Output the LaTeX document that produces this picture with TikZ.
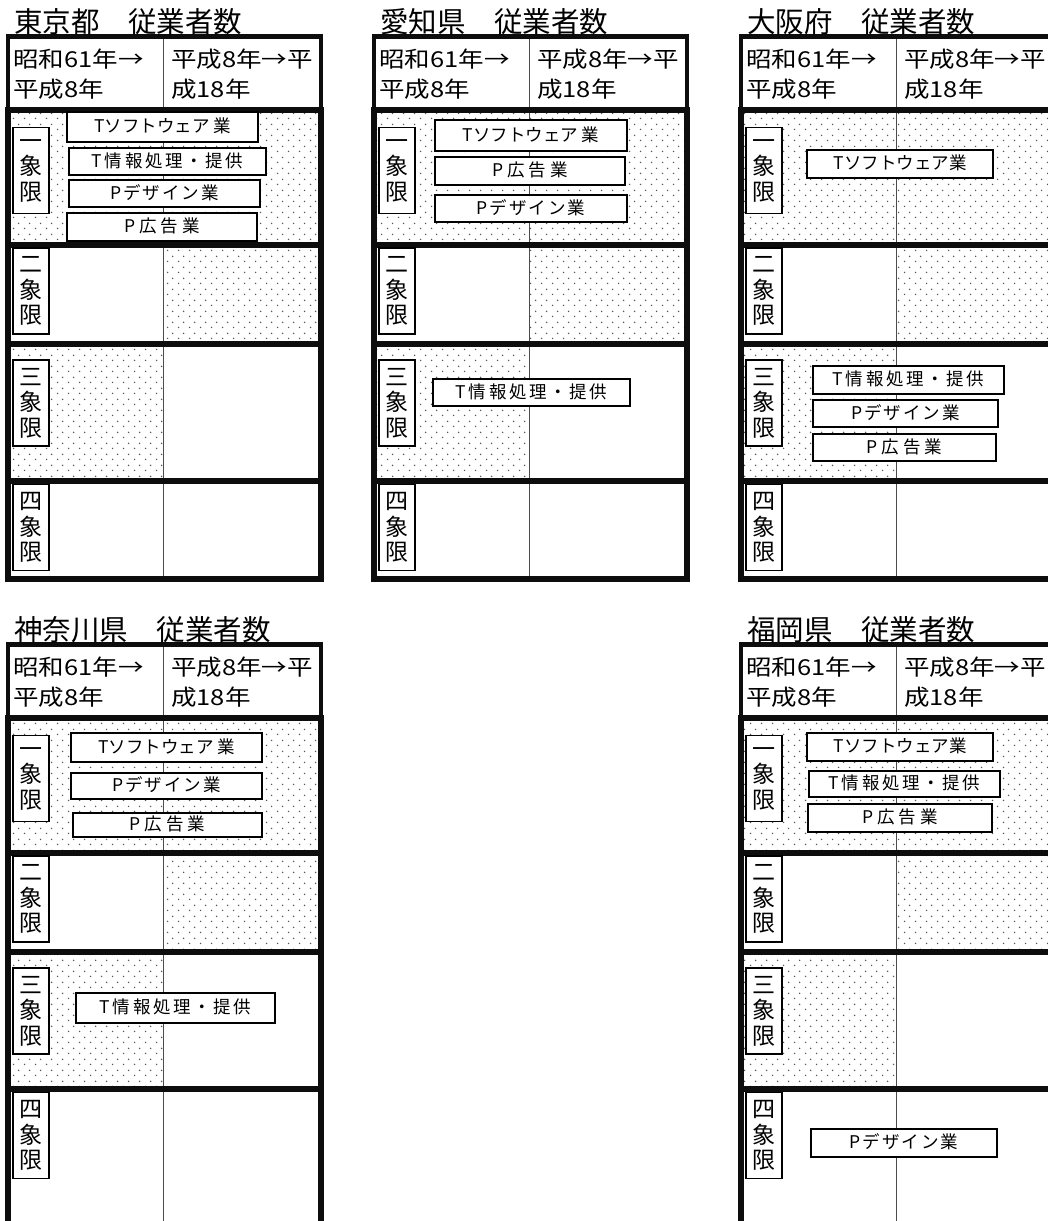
\documentclass[tikz,border=0pt]{standalone}
\usepackage{graphicx}
\usepackage{fontspec}
\setmainfont{Noto Sans CJK JP}
\newfontfamily\HdFont{Noto Sans CJK JP}
\newfontfamily\BxFontA{Noto Sans CJK JP}
\newfontfamily\BxFontB[LetterSpace=11]{Noto Sans CJK JP}
\newfontfamily\BxFontC[LetterSpace=23]{Noto Sans CJK JP}
\newfontfamily\BxFontD[LetterSpace=15]{Noto Sans CJK JP}
\newcommand\HWide[1]{\scalebox{1.16}[1]{#1}}
\usetikzlibrary{patterns.meta}

\pgfdeclarepattern{
  name=mydots,
  type=uncolored,
  bottom left={\pgfpoint{0pt}{0pt}},
  top right={\pgfpoint{11pt}{11pt}},
  tile size={\pgfpoint{11pt}{11pt}},
  code={
    \pgfpathcircle{\pgfpoint{2.75pt}{2.75pt}}{0.85pt}
    \pgfpathcircle{\pgfpoint{8.25pt}{8.25pt}}{0.85pt}
    \pgfusepath{fill}
  }
}

\tikzset{
  frame/.style={line width=6pt, line cap=rect, black!95},
  hframe/.style={line width=4.5pt, black!95},
  midline/.style={line width=1pt, black!70},
  dotfill/.style={pattern=mydots, pattern color=black!65},
  titletext/.style={anchor=west, inner sep=0pt, font=\fontsize{28.5}{28.5}\selectfont},
  headtext/.style={anchor=base west, inner sep=0pt, font=\fontsize{22}{22}\HdFont},
  qlabel/.style={draw, line width=1.5pt, fill=white, minimum width=36pt,
    minimum height=86pt, inner sep=0pt, align=center,
    font=\fontsize{23}{25.5}\selectfont},
  ibox/.style={draw, line width=1.5pt, fill=white, inner sep=0pt,
    text height=1.1em, text depth=0em},
  fA/.style={font=\fontsize{17.5}{17.5}\BxFontA},
  fB/.style={font=\fontsize{17.5}{17.5}\BxFontB},
  fC/.style={font=\fontsize{17.5}{17.5}\BxFontC},
  fD/.style={font=\fontsize{17.5}{17.5}\BxFontD}
}

% #1 prefix, #2 left x, #3 top offset, #4 title, #5 bottom y, #6 bottom line style
\newcommand\DrawPanel[6]{%
  \pgfmathsetmacro\PnL{#2}%
  \pgfmathsetmacro\PnT{#3}%
  \pgfmathsetmacro\PnM{#2+155}%
  \pgfmathsetmacro\PnR{#2+313}%
  % dotted regions
  \fill[dotfill] (\PnL,\PnT+109.5) rectangle (\PnR,\PnT+245);
  \fill[dotfill] (\PnM,\PnT+245) rectangle (\PnR,\PnT+344);
  \fill[dotfill] (\PnL,\PnT+344) rectangle (\PnM,\PnT+480.5);
  % middle line
  \draw[midline] (\PnM,\PnT+36.5) -- (\PnM,#5);
  % frames
  \draw[hframe] (\PnL,\PnT+36.5) rectangle (\PnR,\PnT+109.5);
  \draw[frame] (\PnL,\PnT+109.5) -- (\PnR,\PnT+109.5);
  \draw[frame] (\PnL,\PnT+245) -- (\PnR,\PnT+245);
  \draw[frame] (\PnL,\PnT+344) -- (\PnR,\PnT+344);
  \draw[frame] (\PnL,\PnT+480.5) -- (\PnR,\PnT+480.5);
  \draw[frame] (\PnL,\PnT+109.5) -- (\PnL,#5);
  \draw[frame] (\PnR,\PnT+109.5) -- (\PnR,#5);
  \draw[frame,#6] (\PnL,#5) -- (\PnR,#5);
  % title
  \node[titletext] (#1title) at (\PnL+6,\PnT+22) {#4};
  % header texts
  \node[headtext] (#1ha) at (\PnL+5,\PnT+67.5) {\HWide{昭和61年→}};
  \node[headtext] (#1hb) at (\PnL+5,\PnT+97) {\HWide{平成8年}};
  \node[headtext] (#1hc) at (\PnL+163,\PnT+67.5) {\HWide{平成8年→平}};
  \node[headtext] (#1hd) at (\PnL+163,\PnT+97) {\HWide{成18年}};
  % quadrant labels
  \node[qlabel] (#1q1) at (\PnL+23,\PnT+170.5) {一\\象\\限};
  \node[qlabel] (#1q2) at (\PnL+23,\PnT+291) {二\\象\\限};
  \node[qlabel] (#1q3) at (\PnL+23,\PnT+403) {三\\象\\限};
  \node[qlabel] (#1q4) at (\PnL+23,\PnT+527.5) {四\\象\\限};
}

\begin{document}
\begin{tikzpicture}[x=1pt,y=-1pt]
\useasboundingbox (0,0) rectangle (1048,1221);
\clip (0,0) rectangle (1048,1221);
\fill[white] (0,0) rectangle (1048,1221);

\DrawPanel{tk}{8}{0}{東京都　従業者数}{579}{}
\DrawPanel{ai}{374}{0}{愛知県　従業者数}{579}{}
\DrawPanel{os}{741}{0}{大阪府　従業者数}{579}{}
\DrawPanel{kn}{8}{608}{神奈川県　従業者数}{1240}{draw=none}
\DrawPanel{fk}{741}{608}{福岡県　従業者数}{1240}{draw=none}

% Tokyo
\node[ibox,fA,minimum width=191pt,minimum height=30pt] (tk1) at (162.5,127) {Tソフトウェア 業};
\node[ibox,fD,minimum width=197pt,minimum height=27pt] (tk2) at (167.5,161.5) {T情報処理・提供};
\node[ibox,fB,minimum width=191pt,minimum height=27pt] (tk3) at (164.5,193.5) {Pデザイン業};
\node[ibox,fC,minimum width=190pt,minimum height=28pt] (tk4) at (162,227) {P広告業};
% Aichi
\node[ibox,fA,minimum width=192pt,minimum height=31pt] (ai1) at (531,135.5) {Tソフトウェア 業};
\node[ibox,fC,minimum width=190pt,minimum height=28pt] (ai2) at (530,171) {P広告業};
\node[ibox,fB,minimum width=192pt,minimum height=27pt] (ai3) at (531,208.5) {Pデザイン業};
\node[ibox,fD,minimum width=197pt,minimum height=27pt] (ai4) at (531.5,392.5) {T情報処理・提供};
% Osaka
\node[ibox,fA,minimum width=186pt,minimum height=28pt] (os1) at (900,164) {Tソフトウェア業};
\node[ibox,fD,minimum width=191pt,minimum height=28pt] (os2) at (908.5,380) {T情報処理・提供};
\node[ibox,fB,minimum width=185pt,minimum height=27pt] (os3) at (905.5,413.5) {Pデザイン業};
\node[ibox,fC,minimum width=183pt,minimum height=27pt] (os4) at (904.5,447.5) {P広告業};
% Kanagawa
\node[ibox,fA,minimum width=191pt,minimum height=29pt] (kn1) at (166.5,747.5) {Tソフトウェア 業};
\node[ibox,fB,minimum width=191pt,minimum height=26pt] (kn2) at (166.5,786) {Pデザイン業};
\node[ibox,fC,minimum width=189pt,minimum height=24pt] (kn3) at (167.5,825) {P広告業};
\node[ibox,fD,minimum width=199pt,minimum height=30pt] (kn4) at (175.5,1008) {T情報処理・提供};
% Fukuoka
\node[ibox,fA,minimum width=186pt,minimum height=28pt] (fk1) at (900,747) {Tソフトウェア業};
\node[ibox,fD,minimum width=191pt,minimum height=26pt] (fk2) at (904.5,784) {T情報処理・提供};
\node[ibox,fC,minimum width=184pt,minimum height=28pt] (fk3) at (900,818) {P広告業};
\node[ibox,fB,minimum width=186pt,minimum height=28pt] (fk4) at (904,1143) {Pデザイン業};
\end{tikzpicture}
\end{document}
